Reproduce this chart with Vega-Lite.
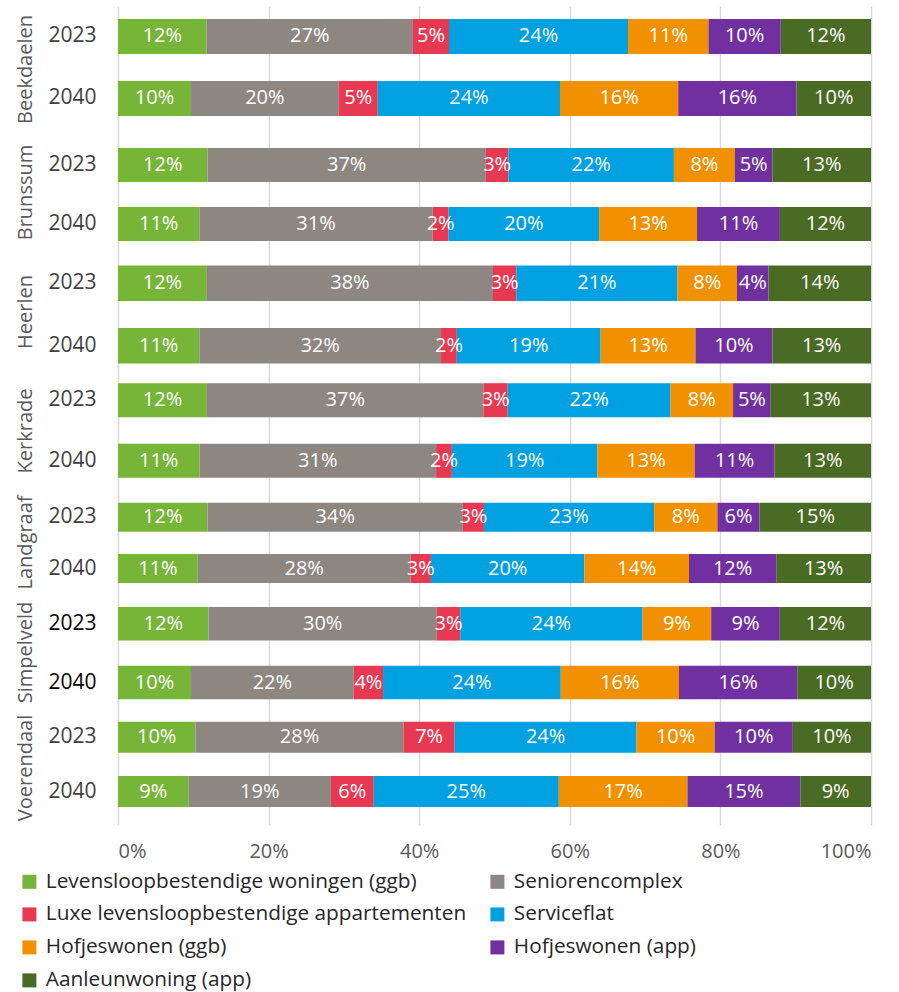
{
  "$schema": "https://vega.github.io/schema/vega-lite/v6.json",
  "background": "white",
  "padding": {"left": 15, "top": 6, "right": 20, "bottom": 0},
  "data": {"values": [
    {"gemeente": "Beekdaelen", "jaar": "2023", "lbw": 0.118, "sc": 0.274, "luxe": 0.048, "sf": 0.238, "hggb": 0.107, "happ": 0.096, "aan": 0.120},
    {"gemeente": "Beekdaelen", "jaar": "2040", "lbw": 0.097, "sc": 0.196, "luxe": 0.052, "sf": 0.242, "hggb": 0.157, "happ": 0.157, "aan": 0.099},
    {"gemeente": "Brunssum", "jaar": "2023", "lbw": 0.119, "sc": 0.370, "luxe": 0.030, "sf": 0.220, "hggb": 0.081, "happ": 0.050, "aan": 0.131},
    {"gemeente": "Brunssum", "jaar": "2040", "lbw": 0.108, "sc": 0.310, "luxe": 0.021, "sf": 0.200, "hggb": 0.130, "happ": 0.110, "aan": 0.121},
    {"gemeente": "Heerlen", "jaar": "2023", "lbw": 0.118, "sc": 0.380, "luxe": 0.031, "sf": 0.214, "hggb": 0.079, "happ": 0.042, "aan": 0.136},
    {"gemeente": "Heerlen", "jaar": "2040", "lbw": 0.108, "sc": 0.321, "luxe": 0.021, "sf": 0.191, "hggb": 0.126, "happ": 0.102, "aan": 0.131},
    {"gemeente": "Kerkrade", "jaar": "2023", "lbw": 0.118, "sc": 0.367, "luxe": 0.032, "sf": 0.216, "hggb": 0.083, "happ": 0.050, "aan": 0.133},
    {"gemeente": "Kerkrade", "jaar": "2040", "lbw": 0.108, "sc": 0.314, "luxe": 0.021, "sf": 0.193, "hggb": 0.129, "happ": 0.106, "aan": 0.128},
    {"gemeente": "Landgraaf", "jaar": "2023", "lbw": 0.119, "sc": 0.339, "luxe": 0.028, "sf": 0.226, "hggb": 0.084, "happ": 0.056, "aan": 0.148},
    {"gemeente": "Landgraaf", "jaar": "2040", "lbw": 0.106, "sc": 0.283, "luxe": 0.027, "sf": 0.204, "hggb": 0.139, "happ": 0.116, "aan": 0.126},
    {"gemeente": "Simpelveld", "jaar": "2023", "lbw": 0.120, "sc": 0.303, "luxe": 0.031, "sf": 0.242, "hggb": 0.091, "happ": 0.091, "aan": 0.121},
    {"gemeente": "Simpelveld", "jaar": "2040", "lbw": 0.097, "sc": 0.216, "luxe": 0.039, "sf": 0.236, "hggb": 0.157, "happ": 0.157, "aan": 0.098},
    {"gemeente": "Voerendaal", "jaar": "2023", "lbw": 0.103, "sc": 0.277, "luxe": 0.068, "sf": 0.242, "hggb": 0.104, "happ": 0.104, "aan": 0.104},
    {"gemeente": "Voerendaal", "jaar": "2040", "lbw": 0.094, "sc": 0.189, "luxe": 0.057, "sf": 0.246, "hggb": 0.171, "happ": 0.150, "aan": 0.094}
  ]},
  "transform": [
    {"fold": ["lbw", "sc", "luxe", "sf", "hggb", "happ", "aan"], "as": ["code", "aandeel"]},
    {"lookup": "code", "from": {"data": {"values": [
      {"code": "lbw", "nr": 1, "categorie": "Levensloopbestendige woningen (ggb)"},
      {"code": "sc", "nr": 2, "categorie": "Seniorencomplex"},
      {"code": "luxe", "nr": 3, "categorie": "Luxe levensloopbestendige appartementen"},
      {"code": "sf", "nr": 4, "categorie": "Serviceflat"},
      {"code": "hggb", "nr": 5, "categorie": "Hofjeswonen (ggb)"},
      {"code": "happ", "nr": 6, "categorie": "Hofjeswonen (app)"},
      {"code": "aan", "nr": 7, "categorie": "Aanleunwoning (app)"}
    ]}, "key": "code", "fields": ["nr", "categorie"]}}
  ],
  "spacing": 0,
  "vconcat": [
    {
      "width": 753, "height": 126,
      "transform": [{"filter": {"field": "gemeente", "equal": "Beekdaelen"}}],
      "encoding": {"y": {"field": "jaar", "type": "ordinal", "title": "Beekdaelen", "scale": {"paddingInner": 0.4355, "paddingOuter": 0.234, "align": 0.448}}},
      "layer": [
        {"mark": "bar", "encoding": {
          "x": {"field": "aandeel", "type": "quantitative", "stack": "normalize", "title": null, "scale": {"domain": [0, 1], "nice": false}},
          "color": {"field": "categorie", "type": "nominal", "title": null, "scale": {"domain": ["Levensloopbestendige woningen (ggb)", "Seniorencomplex", "Luxe levensloopbestendige appartementen", "Serviceflat", "Hofjeswonen (ggb)", "Hofjeswonen (app)", "Aanleunwoning (app)"], "range": ["#77B539", "#8E8781", "#E73A52", "#00A1E1", "#F29100", "#7030A0", "#4A6B24"]}},
          "order": {"field": "nr", "type": "quantitative"}}},
        {"mark": "text", "encoding": {
          "x": {"field": "aandeel", "type": "quantitative", "stack": "normalize", "bandPosition": 0.5, "title": null},
          "detail": {"field": "categorie", "type": "nominal"},
          "order": {"field": "nr", "type": "quantitative"},
          "text": {"field": "aandeel", "type": "quantitative", "format": ".0%"}}}
      ]
    },
    {
      "width": 753, "height": 120,
      "transform": [{"filter": {"field": "gemeente", "equal": "Brunssum"}}],
      "encoding": {"y": {"field": "jaar", "type": "ordinal", "title": "Brunssum", "scale": {"paddingInner": 0.4237, "paddingOuter": 0.2288, "align": 0.593}}},
      "layer": [
        {"mark": "bar", "encoding": {
          "x": {"field": "aandeel", "type": "quantitative", "stack": "normalize", "title": null, "scale": {"domain": [0, 1], "nice": false}},
          "color": {"field": "categorie", "type": "nominal", "title": null, "scale": {"domain": ["Levensloopbestendige woningen (ggb)", "Seniorencomplex", "Luxe levensloopbestendige appartementen", "Serviceflat", "Hofjeswonen (ggb)", "Hofjeswonen (app)", "Aanleunwoning (app)"], "range": ["#77B539", "#8E8781", "#E73A52", "#00A1E1", "#F29100", "#7030A0", "#4A6B24"]}},
          "order": {"field": "nr", "type": "quantitative"}}},
        {"mark": "text", "encoding": {
          "x": {"field": "aandeel", "type": "quantitative", "stack": "normalize", "bandPosition": 0.5, "title": null},
          "detail": {"field": "categorie", "type": "nominal"},
          "order": {"field": "nr", "type": "quantitative"},
          "text": {"field": "aandeel", "type": "quantitative", "format": ".0%"}}}
      ]
    },
    {
      "width": 753, "height": 119,
      "transform": [{"filter": {"field": "gemeente", "equal": "Heerlen"}}],
      "encoding": {"y": {"field": "jaar", "type": "ordinal", "title": "Heerlen", "scale": {"paddingInner": 0.432, "paddingOuter": 0.168, "align": 0.643}}},
      "layer": [
        {"mark": "bar", "encoding": {
          "x": {"field": "aandeel", "type": "quantitative", "stack": "normalize", "title": null, "scale": {"domain": [0, 1], "nice": false}},
          "color": {"field": "categorie", "type": "nominal", "title": null, "scale": {"domain": ["Levensloopbestendige woningen (ggb)", "Seniorencomplex", "Luxe levensloopbestendige appartementen", "Serviceflat", "Hofjeswonen (ggb)", "Hofjeswonen (app)", "Aanleunwoning (app)"], "range": ["#77B539", "#8E8781", "#E73A52", "#00A1E1", "#F29100", "#7030A0", "#4A6B24"]}},
          "order": {"field": "nr", "type": "quantitative"}}},
        {"mark": "text", "encoding": {
          "x": {"field": "aandeel", "type": "quantitative", "stack": "normalize", "bandPosition": 0.5, "title": null},
          "detail": {"field": "categorie", "type": "nominal"},
          "order": {"field": "nr", "type": "quantitative"},
          "text": {"field": "aandeel", "type": "quantitative", "format": ".0%"}}}
      ]
    },
    {
      "width": 753, "height": 119,
      "transform": [{"filter": {"field": "gemeente", "equal": "Kerkrade"}}],
      "encoding": {"y": {"field": "jaar", "type": "ordinal", "title": "Kerkrade", "scale": {"paddingInner": 0.439, "paddingOuter": 0.201, "align": 0.5}}},
      "layer": [
        {"mark": "bar", "encoding": {
          "x": {"field": "aandeel", "type": "quantitative", "stack": "normalize", "title": null, "scale": {"domain": [0, 1], "nice": false}},
          "color": {"field": "categorie", "type": "nominal", "title": null, "scale": {"domain": ["Levensloopbestendige woningen (ggb)", "Seniorencomplex", "Luxe levensloopbestendige appartementen", "Serviceflat", "Hofjeswonen (ggb)", "Hofjeswonen (app)", "Aanleunwoning (app)"], "range": ["#77B539", "#8E8781", "#E73A52", "#00A1E1", "#F29100", "#7030A0", "#4A6B24"]}},
          "order": {"field": "nr", "type": "quantitative"}}},
        {"mark": "text", "encoding": {
          "x": {"field": "aandeel", "type": "quantitative", "stack": "normalize", "bandPosition": 0.5, "title": null},
          "detail": {"field": "categorie", "type": "nominal"},
          "order": {"field": "nr", "type": "quantitative"},
          "text": {"field": "aandeel", "type": "quantitative", "format": ".0%"}}}
      ]
    },
    {
      "width": 753, "height": 104,
      "transform": [{"filter": {"field": "gemeente", "equal": "Landgraaf"}}],
      "encoding": {"y": {"field": "jaar", "type": "ordinal", "title": "Landgraaf", "scale": {"paddingInner": 0.4347, "paddingOuter": 0.231, "align": 0.536}}},
      "layer": [
        {"mark": "bar", "encoding": {
          "x": {"field": "aandeel", "type": "quantitative", "stack": "normalize", "title": null, "scale": {"domain": [0, 1], "nice": false}},
          "color": {"field": "categorie", "type": "nominal", "title": null, "scale": {"domain": ["Levensloopbestendige woningen (ggb)", "Seniorencomplex", "Luxe levensloopbestendige appartementen", "Serviceflat", "Hofjeswonen (ggb)", "Hofjeswonen (app)", "Aanleunwoning (app)"], "range": ["#77B539", "#8E8781", "#E73A52", "#00A1E1", "#F29100", "#7030A0", "#4A6B24"]}},
          "order": {"field": "nr", "type": "quantitative"}}},
        {"mark": "text", "encoding": {
          "x": {"field": "aandeel", "type": "quantitative", "stack": "normalize", "bandPosition": 0.5, "title": null},
          "detail": {"field": "categorie", "type": "nominal"},
          "order": {"field": "nr", "type": "quantitative"},
          "text": {"field": "aandeel", "type": "quantitative", "format": ".0%"}}}
      ]
    },
    {
      "width": 753, "height": 116,
      "transform": [{"filter": {"field": "gemeente", "equal": "Simpelveld"}}],
      "encoding": {"y": {"field": "jaar", "type": "ordinal", "title": "Simpelveld", "scale": {"paddingInner": 0.43, "paddingOuter": 0.2015, "align": 0.55}, "axis": {"labelColor": "#000000"}}},
      "layer": [
        {"mark": "bar", "encoding": {
          "x": {"field": "aandeel", "type": "quantitative", "stack": "normalize", "title": null, "scale": {"domain": [0, 1], "nice": false}},
          "color": {"field": "categorie", "type": "nominal", "title": null, "scale": {"domain": ["Levensloopbestendige woningen (ggb)", "Seniorencomplex", "Luxe levensloopbestendige appartementen", "Serviceflat", "Hofjeswonen (ggb)", "Hofjeswonen (app)", "Aanleunwoning (app)"], "range": ["#77B539", "#8E8781", "#E73A52", "#00A1E1", "#F29100", "#7030A0", "#4A6B24"]}},
          "order": {"field": "nr", "type": "quantitative"}}},
        {"mark": "text", "encoding": {
          "x": {"field": "aandeel", "type": "quantitative", "stack": "normalize", "bandPosition": 0.5, "title": null},
          "detail": {"field": "categorie", "type": "nominal"},
          "order": {"field": "nr", "type": "quantitative"},
          "text": {"field": "aandeel", "type": "quantitative", "format": ".0%"}}}
      ]
    },
    {
      "width": 753, "height": 115,
      "transform": [{"filter": {"field": "gemeente", "equal": "Voerendaal"}}],
      "encoding": {"y": {"field": "jaar", "type": "ordinal", "title": "Voerendaal", "scale": {"paddingInner": 0.429, "paddingOuter": 0.273, "align": 0.394}}},
      "layer": [
        {"mark": "bar", "encoding": {
          "x": {"field": "aandeel", "type": "quantitative", "stack": "normalize", "title": null, "scale": {"domain": [0, 1], "nice": false},
            "axis": {"labels": true, "format": ".0%", "labelPadding": 16}},
          "color": {"field": "categorie", "type": "nominal", "title": null, "scale": {"domain": ["Levensloopbestendige woningen (ggb)", "Seniorencomplex", "Luxe levensloopbestendige appartementen", "Serviceflat", "Hofjeswonen (ggb)", "Hofjeswonen (app)", "Aanleunwoning (app)"], "range": ["#77B539", "#8E8781", "#E73A52", "#00A1E1", "#F29100", "#7030A0", "#4A6B24"]}},
          "order": {"field": "nr", "type": "quantitative"}}},
        {"mark": "text", "encoding": {
          "x": {"field": "aandeel", "type": "quantitative", "stack": "normalize", "bandPosition": 0.5, "title": null},
          "detail": {"field": "categorie", "type": "nominal"},
          "order": {"field": "nr", "type": "quantitative"},
          "text": {"field": "aandeel", "type": "quantitative", "format": ".0%"}}}
      ]
    }
  ],
  "config": {
    "view": {"stroke": null},
    "text": {"color": "white", "fontSize": 20, "font": "Open Sans"},
    "axisX": {"domain": false, "ticks": false, "labels": false, "tickCount": 5, "grid": true, "gridColor": "#D9D9D9", "gridWidth": 1.5, "labelFontSize": 20, "labelFont": "Open Sans", "labelColor": "#595959"},
    "axisY": {"domain": false, "ticks": false, "grid": false, "labelPadding": 22, "labelFontSize": 21, "labelFont": "Open Sans", "labelColor": "#404040", "titleFontSize": 20, "titleFont": "Open Sans", "titleFontWeight": "normal", "titleColor": "#595959", "titlePadding": 12},
    "legend": {"orient": "none", "legendX": -99, "legendY": 865, "direction": "horizontal", "columns": 2, "labelFontSize": 20.8, "labelFont": "Open Sans", "labelColor": "#262626", "labelLimit": 700, "symbolType": "square", "symbolSize": 196, "symbolStrokeWidth": 0, "symbolOpacity": 1, "rowPadding": 11, "columnPadding": 20, "labelOffset": 6}
  }
}
